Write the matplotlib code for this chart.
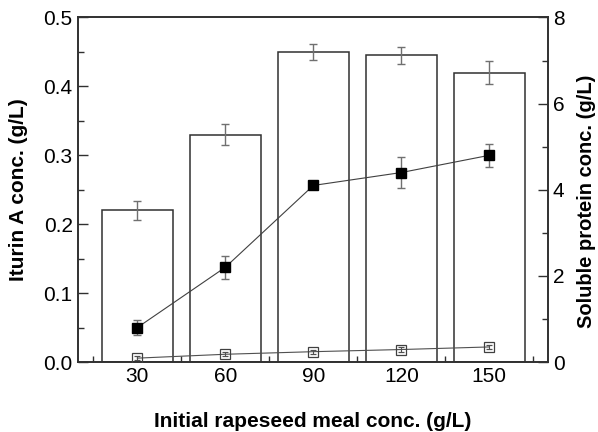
import matplotlib
matplotlib.use("Agg")
import matplotlib.pyplot as plt
from matplotlib.ticker import MultipleLocator

plt.rcParams['font.family'] = ['Liberation Sans', 'DejaVu Sans']

meal = [30, 60, 90, 120, 150]
iturin = [0.22, 0.33, 0.45, 0.445, 0.42]
iturin_err = [0.014, 0.015, 0.012, 0.012, 0.017]
protein_filled = [0.80, 2.20, 4.10, 4.40, 4.80]
protein_filled_err = [0.18, 0.27, 0.05, 0.37, 0.27]
protein_open = [0.09, 0.18, 0.24, 0.29, 0.35]
protein_open_err = [0.05, 0.05, 0.05, 0.05, 0.05]

fig = plt.figure(figsize=(5.98, 4.32), dpi=100)
ax = fig.add_axes([0.1296, 0.162, 0.7868, 0.7975])
ax2 = ax.twinx()

ax.bar(meal, iturin, width=24, facecolor='white', edgecolor='#303030', linewidth=1.1,
       yerr=iturin_err, error_kw=dict(ecolor='#707070', elinewidth=1.0, capsize=2.8, capthick=1.0), zorder=2)

ax2.errorbar(meal, protein_open, yerr=protein_open_err, fmt='-s', color='#505050',
             markerfacecolor='none', markeredgecolor='#404040', markersize=6.5, linewidth=0.8,
             ecolor='#505050', elinewidth=0.8, capsize=2.5, markeredgewidth=0.9, zorder=3)
ax2.errorbar(meal, protein_filled, yerr=protein_filled_err, fmt='-s', color='#404040',
             markerfacecolor='black', markeredgecolor='black', markersize=7.5, linewidth=0.8,
             ecolor='#707070', elinewidth=1.0, capsize=2.8, zorder=4)

ax.set_xlim(9.6, 170)
ax.set_ylim(0, 0.5)
ax2.set_ylim(0, 8)

ax.set_xticks(meal)
ax.xaxis.set_minor_locator(MultipleLocator(15))
ax.yaxis.set_major_locator(MultipleLocator(0.1))
ax.yaxis.set_minor_locator(MultipleLocator(0.05))
ax2.yaxis.set_major_locator(MultipleLocator(2))
ax2.yaxis.set_minor_locator(MultipleLocator(1))

ax.tick_params(axis='both', which='both', direction='in', labelsize=15, color='#303030')
ax.tick_params(which='major', length=7, width=1)
ax.tick_params(which='minor', length=4, width=1)
ax.tick_params(axis='x', which='both', top=False)
ax.tick_params(axis='y', which='both', right=False)
ax2.tick_params(axis='y', which='both', direction='in', labelsize=15, color='#303030')
ax2.tick_params(which='major', length=7, width=1)
ax2.tick_params(which='minor', length=4, width=1)

ax.set_yticks([0.0, 0.1, 0.2, 0.3, 0.4, 0.5])
ax.set_yticklabels(['0.0', '0.1', '0.2', '0.3', '0.4', '0.5'])

for a in (ax, ax2):
    for s in a.spines.values():
        s.set_linewidth(1.2)
        s.set_color('#303030')

ax.set_xlabel('Initial rapeseed meal conc. (g/L)', fontsize=15, fontweight='bold', labelpad=19)
ax.set_ylabel('Iturin A conc. (g/L)', fontsize=15, fontweight='bold', labelpad=11)
ax2.set_ylabel('Soluble protein conc. (g/L)', fontsize=14.5, fontweight='bold')
ax2.yaxis.set_label_coords(1.062, 0.467)

fig.savefig('out.png', dpi=100)
